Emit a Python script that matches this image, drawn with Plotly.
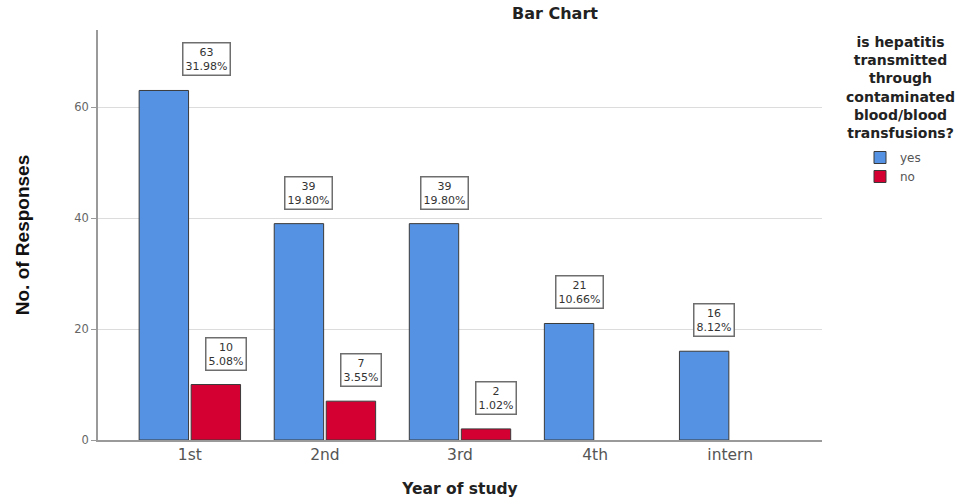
import plotly.graph_objects as go

# Responses by year of study
years = ["1st", "2nd", "3rd", "4th", "intern"]
yes_counts = [63, 39, 39, 21, 16]
no_counts = [10, 7, 2, None, None]
yes_pct = ["31.98%", "19.80%", "19.80%", "10.66%", "8.12%"]
no_pct = ["5.08%", "3.55%", "1.02%", None, None]

BLUE = "#5592e3"
RED = "#d50032"
EDGE = "#3a3a3a"
AXIS = "#9a9a9a"
GRID = "#dcdcdc"
LABEL_FONT = "DejaVu Sans, Arial, sans-serif"

BARGAP = 0.23
fig = go.Figure()
fig.add_trace(go.Bar(
    x=list(range(len(years))), y=yes_counts, name="yes",
    marker=dict(color=BLUE, line=dict(color=EDGE, width=1)),
))
fig.add_trace(go.Bar(
    x=list(range(len(years))), y=no_counts, name="no",
    marker=dict(color=RED, line=dict(color=EDGE, width=1)),
))

# value / percent callouts above each bar
half = (1 - BARGAP) / 4
nudge = {("yes", 0): 33}
for key, counts, pcts, sign in (("yes", yes_counts, yes_pct, -1), ("no", no_counts, no_pct, 1)):
    for i, (c, p) in enumerate(zip(counts, pcts)):
        if c is None:
            continue
        fig.add_annotation(
            x=i + sign * half, y=c, xref="x", yref="y",
            text=f"{c}<br>{p}", showarrow=False,
            yanchor="bottom", yshift=14, xshift=10 + nudge.get((key, i), 0),
            font=dict(family=LABEL_FONT, size=11, color="#333"),
            bgcolor="white", bordercolor="#6e6e6e", borderwidth=1.5, borderpad=2,
        )

fig.add_annotation(
    x=(555 - 98) / 724, y=1 + (30 - 14) / 410, xref="paper", yref="paper",
    text="<b>Bar Chart</b>", showarrow=False, xanchor="center", yanchor="middle",
    font=dict(family=LABEL_FONT, size=16, color="#222"),
)

fig.add_annotation(
    x=(900 - 98) / 724, y=1 + (30 - 87) / 410, xref="paper", yref="paper",
    text="<b>is hepatitis<br>transmitted<br>through<br>contaminated<br>blood/blood<br>transfusions?</b>",
    showarrow=False, xanchor="center", yanchor="middle", align="center",
    font=dict(family=LABEL_FONT, size=14, color="#222"),
)

fig.update_layout(
    width=965, height=501,
    margin=dict(l=98, r=143, t=30, b=61),
    paper_bgcolor="white", plot_bgcolor="white",
    barmode="group", bargap=BARGAP, bargroupgap=0.05,
    showlegend=True,
    legend=dict(
        x=(860 - 98) / 724, y=1 + (30 - 143) / 410, xanchor="left", yanchor="top",
        font=dict(family=LABEL_FONT, size=12, color="#555"),
        bgcolor="rgba(0,0,0,0)", tracegroupgap=0,
    ),
    xaxis=dict(
        tickmode="array", tickvals=list(range(len(years))), ticktext=years,
        range=[-0.68, 4.68], showgrid=False, zeroline=False, automargin=False,
        showline=True, linecolor=AXIS, linewidth=1.5, ticks="",
        tickfont=dict(family=LABEL_FONT, size=15.5, color="#555"),
        title=dict(text="<b>Year of study</b>", standoff=20,
                   font=dict(family=LABEL_FONT, size=15.5, color="#222")),
    ),
    yaxis=dict(
        range=[0, 73.9], tickvals=[0, 20, 40, 60], showgrid=True, gridcolor=GRID,
        gridwidth=1.2, zeroline=False, showline=True, linecolor=AXIS, linewidth=1.5,
        ticks="outside", ticklen=5, tickcolor=AXIS, automargin=False,
        tickfont=dict(family=LABEL_FONT, size=11.5, color="#666"),
        title=dict(text="<b>No. of Responses</b>", standoff=40,
                   font=dict(family="Liberation Sans, Arial, sans-serif", size=19, color="#111")),
    ),
)

fig.write_html("out.html")
